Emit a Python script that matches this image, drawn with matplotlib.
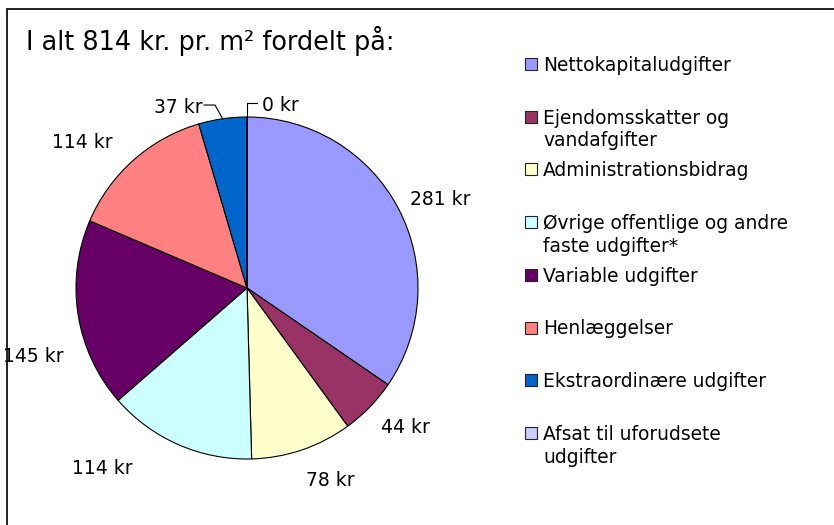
import numpy as np
import matplotlib
matplotlib.use("Agg")
import matplotlib.pyplot as plt
from matplotlib.patches import Rectangle

# data (kr. pr. m2)
categories = ["Nettokapitaludgifter", "Ejendomsskatter og\nvandafgifter",
              "Administrationsbidrag", "Øvrige offentlige og andre\nfaste udgifter*",
              "Variable udgifter", "Henlæggelser", "Ekstraordinære udgifter",
              "Afsat til uforudsete\nudgifter"]
values = [281, 44, 78, 114, 145, 114, 37, 0]
total = 814
colors = ["#9999FF", "#993366", "#FFFFCC", "#CCFFFF",
          "#660066", "#FF8080", "#0066CC", "#CCCCFF"]

# label placement, in pie radii from the centre (layout only)
label_pos = [(1.129, 0.515), (0.924, -0.813), (0.485, -1.123), (-0.848, -1.058),
             (-1.251, -0.398), (-0.965, 0.848), None, None]

W, H = 834, 525
fig = plt.figure(figsize=(W / 100, H / 100), dpi=100)

# chart frame (cut by the picture edge on right and bottom)
fig.patches.append(Rectangle((7 / W, -0.2), 2.0, 1 - 9 / H + 0.2,
                             transform=fig.transFigure, fill=False,
                             edgecolor="#111111", linewidth=1.3))

fig.text(26 / W, 1 - 50 / H, "I alt %d kr. pr. m² fordelt på:" % total,
         fontsize=18.4, va="baseline", ha="left")

# pie
cx, cy, R = 247, 288, 171
ax = fig.add_axes([(cx - R) / W, (H - cy - R) / H, 2 * R / W, 2 * R / H])
wedges, _ = ax.pie(values, colors=colors, startangle=90, counterclock=False,
                   radius=1, wedgeprops=dict(edgecolor="black", linewidth=0.8))
ax.set_xlim(-1, 1)
ax.set_ylim(-1, 1)
ax.set_aspect("equal")
ax.axis("off")

for i, v in enumerate(values):
    txt = "%d kr" % v
    if label_pos[i] is not None:
        x, y = label_pos[i]
        ax.text(x, y, txt, fontsize=13.5, ha="center", va="center")

# small slices get leader lines
w = wedges[6]
mid = np.deg2rad((w.theta1 + w.theta2) / 2)
ex, ey = np.cos(mid), np.sin(mid)
ax.plot([ex, -0.187, -0.251], [ey, 1.070, 1.070], color="black", lw=0.8, clip_on=False)
ax.text(-0.262, 1.056, "%d kr" % values[6], fontsize=13.5, ha="right", va="center")

w = wedges[7]
mid = np.deg2rad((w.theta1 + w.theta2) / 2)
ex, ey = np.cos(mid), np.sin(mid)
ax.plot([ex, ex, 0.058], [ey, 1.082, 1.082], color="black", lw=0.8, clip_on=False)
ax.text(0.088, 1.067, "%d kr" % values[7], fontsize=13.5, ha="left", va="center")

# legend drawn by hand so every entry sits on the same pitch,
# wrapped lines hang below the first one
for i, (lab, col) in enumerate(zip(categories, colors)):
    yc = 64 + 52.7 * i
    fig.patches.append(Rectangle((525 / W, 1 - (yc + 6) / H), 12 / W, 12 / H,
                                 transform=fig.transFigure, facecolor=col,
                                 edgecolor="#222222", linewidth=0.8))
    for k, line in enumerate(lab.split("\n")):
        fig.text(543 / W, 1 - (yc + 7 + 22.8 * k) / H, line, fontsize=13.4,
                 va="baseline", ha="left")

fig.savefig("out.png", dpi=100)
